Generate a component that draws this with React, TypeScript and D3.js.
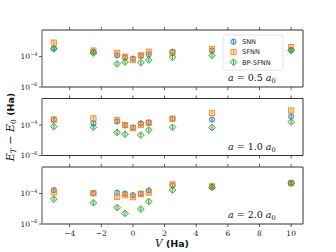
import React from 'react';
import * as d3 from 'd3';

// x positions (V in Ha)
const vValues = [-5, -2.5, -1, -0.5, 0, 0.5, 1, 2.5, 5, 10];

// a = 0.5 a0
const snn05 = [3.5e-4, 2.1e-4, 1.2e-4, 8.9e-5, 7.4e-5, 1.1e-4, 1.4e-4, 2.1e-4, 2.5e-4, 2.8e-4];
const sfnn05 = [8.3e-4, 2.5e-4, 1.7e-4, 1.0e-4, 6.0e-5, 1.2e-4, 2.1e-4, 1.8e-4, 3.2e-4, 4.2e-4];
const bp05 = [3.2e-4, 1.7e-4, 3.3e-5, 4.3e-5, null, 4.0e-5, 6.0e-5, 9.1e-5, 1.2e-4, 2.5e-4];

// a = 1.0 a0
const snn10 = [2.3e-4, 1.3e-4, 1.7e-4, 9.5e-5, 7.1e-5, 1.3e-4, 1.5e-4, 2.6e-4, 2.3e-4, 3.7e-4];
const sfnn10 = [2.3e-4, 2.8e-4, 2.1e-4, 1.0e-4, 6.3e-5, 1.0e-4, 1.4e-4, 2.6e-4, 6.3e-4, 9.1e-4];
const bp10 = [8.1e-5, 7.1e-5, 3.3e-5, 2.5e-5, null, 2.2e-5, 4.7e-5, 7.1e-5, 6.8e-5, 1.6e-4];

// a = 2.0 a0
const snn20 = [1.7e-4, 1.05e-4, 1.15e-4, 1.0e-4, 7.9e-5, 1.0e-4, 1.6e-4, 3.5e-4, 3.0e-4, 4.9e-4];
const sfnn20 = [1.2e-4, 1.05e-4, 6.0e-5, 7.8e-5, 5.8e-5, 9.3e-5, 1.15e-4, 4.1e-4, 3.0e-4, 4.9e-4];
const bp20 = [4.3e-5, 2.5e-5, 1.2e-5, 5.0e-6, null, 9.5e-6, 3.0e-5, 1.7e-4, 2.5e-4, 4.9e-4];

const panelLabels = ['0.5', '1.0', '2.0'];
const seriesNames = ['SNN', 'SFNN', 'BP-SFNN'];
const xTicks = [-4, -2, 0, 2, 4, 6, 8, 10];
const yTicks = [1e-4, 1e-6];
const yTickExp = ['−4', '−6'];

const panels = [
  [snn05, sfnn05, bp05],
  [snn10, sfnn10, bp10],
  [snn20, sfnn20, bp20],
];

const colors = ['#1f77b4', '#ff7f0e', '#2ca02c'];
const shapes = ['circle', 'square', 'diamond'];

const W = 336, H = 252;
const left = 42, right = 303;
const panelTops = [30, 98.5, 167];
const panelH = 57;

const x = d3.scaleLinear().domain([-5.75, 10.75]).range([left, right]);

const serif = '"DejaVu Serif", "Liberation Serif", serif';
const sans = '"DejaVu Sans", sans-serif';

function Marker({ cx, cy, idx }: { cx: number; cy: number; idx: number }) {
  const c = colors[idx];
  const common = { fill: c, fillOpacity: 0.22, stroke: c, strokeOpacity: 0.85, strokeWidth: 1 };
  let shape;
  if (shapes[idx] === 'circle') shape = <circle cx={cx} cy={cy} r={2.6} {...common} />;
  else if (shapes[idx] === 'square') shape = <rect x={cx - 2.6} y={cy - 2.6} width={5.2} height={5.2} {...common} />;
  else {
    const p = d3.path();
    p.moveTo(cx, cy - 3.4);
    p.lineTo(cx + 3.4, cy);
    p.lineTo(cx, cy + 3.4);
    p.lineTo(cx - 3.4, cy);
    p.closePath();
    shape = <path d={p.toString()} {...common} />;
  }
  return (
    <g>
      {shape}
      <line x1={cx} x2={cx} y1={cy - 2.5} y2={cy + 2.5} stroke={c} strokeWidth={1} strokeOpacity={0.8} />
    </g>
  );
}

function Panel({ top, data, label, showX, showLegend }: any) {
  const y = d3.scaleLog().domain([1e-6, 5.6e-3]).range([top + panelH, top]);
  return (
    <g>
      {/* points */}
      {data.map((series: (number | null)[], si: number) =>
        series.map((v, i) =>
          v == null ? null : <Marker key={`${si}-${i}`} cx={x(vValues[i])} cy={y(v)} idx={si} />
        )
      )}
      {/* frame */}
      <line x1={left} x2={right} y1={top} y2={top} stroke="#333" strokeWidth={1} />
      <line x1={left} x2={right} y1={top + panelH} y2={top + panelH} stroke="#333" strokeWidth={1} />
      <line x1={right} x2={right} y1={top} y2={top + panelH} stroke="#333" strokeWidth={1} />
      <line x1={left} x2={left} y1={top} y2={top + panelH} stroke="#888" strokeWidth={1.5} />
      {/* x ticks */}
      {xTicks.map((t) => (
        <g key={t}>
          <line x1={x(t)} x2={x(t)} y1={top} y2={top - 3} stroke="#333" strokeWidth={0.8} />
          <line x1={x(t)} x2={x(t)} y1={top + panelH} y2={top + panelH + 3} stroke="#333" strokeWidth={0.8} />
          {showX && (
            <text x={x(t)} y={top + panelH + 11.5} textAnchor="middle" fontFamily={serif} fontSize={7.5} fill="#222">
              {t < 0 ? `−${Math.abs(t)}` : t}
            </text>
          )}
        </g>
      ))}
      {/* y ticks */}
      {yTicks.map((t, i) => (
        <g key={t}>
          <line x1={left} x2={left - 3} y1={y(t)} y2={y(t)} stroke="#333" strokeWidth={0.8} />
          <text x={left - 4.5} y={y(t) + 2.8} textAnchor="end" fontFamily={serif} fontSize={7.5} fill="#222">
            10<tspan dy={-3.5} fontSize={5}>{yTickExp[i]}</tspan>
          </text>
        </g>
      ))}
      {/* annotation */}
      <text x={228} y={top + 51} fontFamily={serif} fontSize={9.5} fill="#111">
        <tspan fontStyle="italic">a</tspan>
        <tspan> = {label} </tspan>
        <tspan fontStyle="italic">a</tspan>
        <tspan fontSize={6.5} dy={2}>0</tspan>
      </text>
      {showLegend && (
        <g>
          <rect x={223} y={35} width={60} height={35} rx={2} fill="white" fillOpacity={0.85} stroke="#ddd" strokeWidth={0.8} />
          {seriesNames.map((n, i) => (
            <g key={n}>
              <Marker cx={233.5} cy={41.7 + i * 10.3} idx={i} />
              <text x={242} y={41.7 + i * 10.3 + 2.4} fontFamily={sans} fontSize={6.6} fill="#222">
                {n}
              </text>
            </g>
          ))}
        </g>
      )}
    </g>
  );
}

export default function App() {
  return (
    <svg width={W} height={H} style={{ position: 'absolute', left: 0, top: 0, background: 'white' }}>
      {panels.map((d, i) => (
        <Panel key={i} top={panelTops[i]} data={d} label={panelLabels[i]} showX={i === 2} showLegend={i === 0} />
      ))}
      {/* x label */}
      <text x={172} y={247} textAnchor="middle" fill="#111">
        <tspan fontFamily={serif} fontStyle="italic" fontSize={10.5}>V</tspan>
        <tspan fontFamily={sans} fontSize={9.5} fontWeight="bold"> (Ha)</tspan>
      </text>
      {/* y label */}
      <text transform="translate(14,127) rotate(-90)" textAnchor="middle" fill="#111">
        <tspan fontFamily={serif} fontStyle="italic" fontSize={11}>E</tspan>
        <tspan fontFamily={serif} fontStyle="italic" fontSize={7.5} dy={2}>T</tspan>
        <tspan fontFamily={serif} fontSize={11} dy={-2}> − </tspan>
        <tspan fontFamily={serif} fontStyle="italic" fontSize={11}>E</tspan>
        <tspan fontFamily={serif} fontSize={7.5} dy={2}>0</tspan>
        <tspan fontFamily={sans} fontSize={9.5} fontWeight="bold" dy={-2}> (Ha)</tspan>
      </text>
    </svg>
  );
}
